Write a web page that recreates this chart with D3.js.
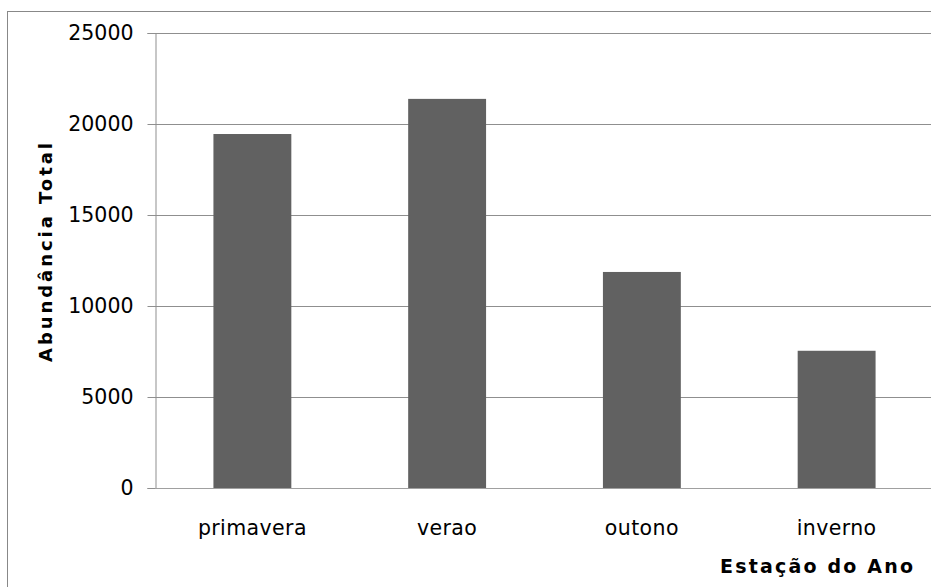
<!DOCTYPE html>
<html>
<head>
<meta charset="utf-8">
<script src="https://cdn.jsdelivr.net/npm/d3@7"></script>
<style>
  html, body { margin: 0; padding: 0; background: #fff; }
  svg { display: block; }
</style>
</head>
<body>
<svg id="chart" width="931" height="587"></svg>
<script>
// Abundância total por estação do ano
const categories = ["primavera", "verao", "outono", "inverno"];
const values = [19450, 21380, 11870, 7540];
const yTicks = [0, 5000, 10000, 15000, 20000, 25000];

const W = 931, H = 587;
const plot = { left: 155, right: 934, top: 33, bottom: 488 };

const svg = d3.select("#chart");

// outer chart frame
svg.append("rect")
  .attr("x", 7.5).attr("y", 11.5)
  .attr("width", W + 20).attr("height", H + 20)
  .attr("fill", "#fff").attr("stroke", "#888").attr("stroke-width", 1);

const x = d3.scaleBand()
  .domain(categories)
  .range([plot.left, plot.right])
  .paddingInner(0.6)
  .paddingOuter(0.3);

const y = d3.scaleLinear()
  .domain([0, 25000])
  .range([plot.bottom, plot.top]);

const font = "'DejaVu Sans', sans-serif";

// horizontal gridlines
svg.append("g")
  .selectAll("line")
  .data(yTicks.filter(d => d > 0))
  .join("line")
  .attr("x1", plot.left).attr("x2", W)
  .attr("y1", d => Math.round(y(d)) + 0.5)
  .attr("y2", d => Math.round(y(d)) + 0.5)
  .attr("stroke", "#8f8f8f").attr("stroke-width", 1);

// bars
svg.append("g")
  .selectAll("rect")
  .data(values)
  .join("rect")
  .attr("x", (d, i) => x(categories[i]))
  .attr("width", x.bandwidth())
  .attr("y", d => y(d))
  .attr("height", d => y(0) - y(d))
  .attr("fill", "#616161");

// y axis
const yAxis = d3.axisLeft(y)
  .tickValues(yTicks)
  .tickSize(8)
  .tickPadding(14)
  .tickFormat(d3.format("d"));

const gy = svg.append("g")
  .attr("transform", `translate(${plot.left + 0.5},0)`)
  .call(yAxis);
gy.select(".domain").attr("stroke", "#8f8f8f");
gy.selectAll(".tick line").attr("stroke", "#8f8f8f");
gy.selectAll(".tick text")
  .attr("fill", "#000")
  .style("font-family", font)
  .style("font-size", "20.5px");
gy.selectAll(".tick").attr("transform", d => `translate(0,${Math.round(y(d)) + 0.5})`);

// x axis baseline
const xAxis = d3.axisBottom(x).tickSize(0).tickPadding(32);
const gx = svg.append("g")
  .attr("transform", `translate(0,${plot.bottom + 0.5})`)
  .call(xAxis);
gx.select(".domain").attr("stroke", "#a0a0a0").attr("d", `M${plot.left},0H${W}`);
gx.selectAll(".tick text")
  .attr("fill", "#000")
  .style("font-family", font)
  .style("font-size", "20.5px")
  .style("letter-spacing", "0.4px");

// axis titles
svg.append("text")
  .attr("transform", "translate(52,252.5) rotate(-90)")
  .attr("text-anchor", "middle")
  .attr("textLength", 219)
  .attr("lengthAdjust", "spacing")
  .style("font-family", font)
  .style("font-weight", "bold")
  .style("font-size", "18px")
  .text("Abundância Total");

svg.append("text")
  .attr("x", 720).attr("y", 572.5)
  .attr("textLength", 193)
  .attr("lengthAdjust", "spacing")
  .style("font-family", font)
  .style("font-weight", "bold")
  .style("font-size", "19px")
  .text("Estação do Ano");
</script>
</body>
</html>
